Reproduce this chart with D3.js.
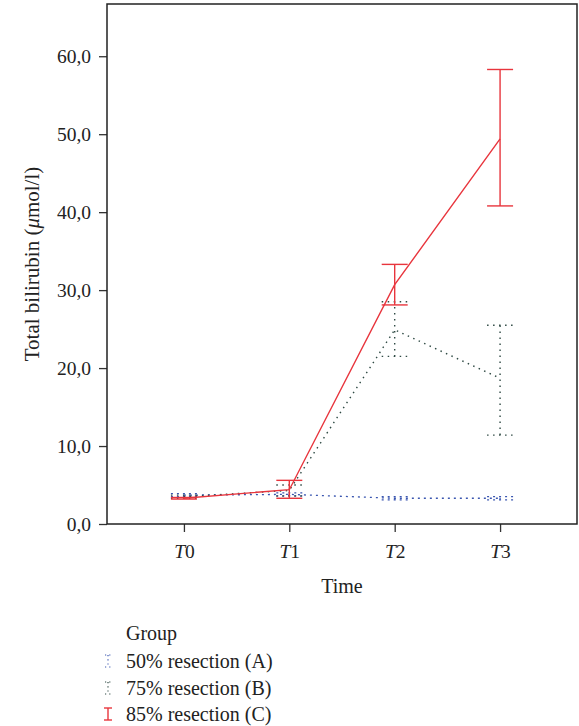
<!DOCTYPE html>
<html>
<head>
<meta charset="utf-8">
<script src="https://cdn.jsdelivr.net/npm/d3@7"></script>
<style>
  body { margin: 0; background: #fff; }
  text { font-family: "Liberation Serif", "DejaVu Serif", serif; fill: #222; }
</style>
</head>
<body>
<div id="chart"></div>
<script>
// data
var times = ["T0", "T1", "T2", "T3"];
var groups = ["50% resection (A)", "75% resection (B)", "85% resection (C)"];
var meanA = [3.7, 3.8, 3.3, 3.3];
var lowA  = [3.5, 3.6, 3.1, 3.1];
var highA = [3.9, 4.0, 3.5, 3.5];
var meanB = [3.5, 4.3, 24.9, 18.7];
var lowB  = [3.3, 3.6, 21.5, 11.4];
var highB = [3.7, 5.0, 28.5, 25.5];
var meanC = [3.3, 4.4, 30.7, 49.4];
var lowC  = [3.2, 3.3, 28.1, 40.8];
var highC = [3.4, 5.6, 33.3, 58.3];
var yTicks = [0, 10, 20, 30, 40, 50, 60];

var svgWidth = 579, svgHeight = 726;
var margin = { top: 4, right: 2, bottom: 202, left: 107 };
var width = svgWidth - margin.left - margin.right;
var height = svgHeight - margin.top - margin.bottom;
var fontSize = 19.5;

var svg = d3.select("#chart").append("svg")
    .attr("width", svgWidth)
    .attr("height", svgHeight);

var chartGroup = svg.append("g")
    .attr("transform", `translate(${margin.left}, ${margin.top})`);

var xScale = d3.scalePoint()
    .domain(times)
    .range([0, width])
    .padding(0.73);

var yScale = d3.scaleLinear()
    .domain([0, 66.7])
    .range([height, 0]);

// axes
var yAxis = d3.axisLeft(yScale)
    .tickValues(yTicks)
    .tickSize(8)
    .tickPadding(8)
    .tickFormat(d => d3.format(".1f")(d).replace(".", ","));
var xAxis = d3.axisBottom(xScale).tickSize(8).tickPadding(12);

var yG = chartGroup.append("g").call(yAxis);
var xG = chartGroup.append("g")
    .attr("transform", `translate(0, ${height})`)
    .call(xAxis);

[yG, xG].forEach(function(g) {
    g.select(".domain").remove();
    g.selectAll("line").attr("stroke", "#333").attr("stroke-width", 1.3);
    g.selectAll("text").attr("font-size", fontSize).attr("font-family", "Liberation Serif").attr("fill", "#222");
});

xG.selectAll(".tick text").text(null)
    .each(function(d) {
        var t = d3.select(this);
        t.append("tspan").attr("font-style", "italic").text(d.charAt(0));
        t.append("tspan").text(d.slice(1));
    });

// frame
chartGroup.append("rect")
    .attr("width", width)
    .attr("height", height)
    .attr("fill", "none")
    .attr("stroke", "#222")
    .attr("stroke-width", 1.5);

// series
var series = [
    { name: groups[0], mean: meanA, low: lowA, high: highA, color: "#3a56b0", dash: "2,4", width: 1.3 },
    { name: groups[1], mean: meanB, low: lowB, high: highB, color: "#2f4a44", dash: "1.5,4.5", width: 1.4 },
    { name: groups[2], mean: meanC, low: lowC, high: highC, color: "#e8353d", dash: null, width: 1.4 }
];

var line = d3.line()
    .x(d => xScale(d.t))
    .y(d => yScale(d.v));

var capW = 13;

series.forEach(function(s) {
    var pts = times.map((t, i) => ({ t: t, v: s.mean[i], lo: s.low[i], hi: s.high[i] }));
    var g = chartGroup.append("g");

    g.append("path")
        .datum(pts)
        .attr("d", line)
        .attr("fill", "none")
        .attr("stroke", s.color)
        .attr("stroke-width", s.width)
        .attr("stroke-dasharray", s.dash);

    var bars = g.selectAll(".err").data(pts).enter().append("g");
    bars.append("line")
        .attr("x1", d => xScale(d.t)).attr("x2", d => xScale(d.t))
        .attr("y1", d => yScale(d.lo)).attr("y2", d => yScale(d.hi));
    bars.append("line")
        .attr("x1", d => xScale(d.t) - capW).attr("x2", d => xScale(d.t) + capW)
        .attr("y1", d => yScale(d.hi)).attr("y2", d => yScale(d.hi));
    bars.append("line")
        .attr("x1", d => xScale(d.t) - capW).attr("x2", d => xScale(d.t) + capW)
        .attr("y1", d => yScale(d.lo)).attr("y2", d => yScale(d.lo));
    bars.selectAll("line")
        .attr("stroke", s.color)
        .attr("stroke-width", s.width)
        .attr("stroke-dasharray", s.dash);
});

// axis labels
chartGroup.append("text")
    .attr("transform", "rotate(-90)")
    .attr("x", -height / 2)
    .attr("y", -margin.left + 32)
    .attr("dy", "0.35em")
    .attr("text-anchor", "middle")
    .attr("font-size", 21)
    .html('Total bilirubin (<tspan font-style="italic">μ</tspan>mol/l)');

chartGroup.append("text")
    .attr("x", width / 2)
    .attr("y", height + 62)
    .attr("dy", "0.35em")
    .attr("text-anchor", "middle")
    .attr("font-size", 20)
    .text("Time");

// legend
var legend = svg.append("g").attr("transform", "translate(108, 0)");
legend.append("text")
    .attr("x", 18).attr("y", 633)
    .attr("dy", "0.35em")
    .attr("font-size", 20)
    .text("Group");

var legendY = [661, 688, 714];
series.forEach(function(s, i) {
    var y = legendY[i];
    var g = legend.append("g");
    var cw = s.dash ? 3 : 4;
    g.append("line").attr("x1", 0).attr("x2", 0).attr("y1", y - 6).attr("y2", y + 6);
    g.append("line").attr("x1", -cw).attr("x2", cw).attr("y1", y - 6).attr("y2", y - 6);
    g.append("line").attr("x1", -cw).attr("x2", cw).attr("y1", y + 6).attr("y2", y + 6);
    g.selectAll("line")
        .attr("stroke", s.color)
        .attr("stroke-width", s.dash ? 1.2 : 1.4)
        .attr("stroke-dasharray", s.dash ? "1.2,3" : null);
    legend.append("text")
        .attr("x", 18).attr("y", y)
        .attr("dy", "0.35em")
        .attr("font-size", 20)
        .text(s.name);
});
</script>
</body>
</html>
